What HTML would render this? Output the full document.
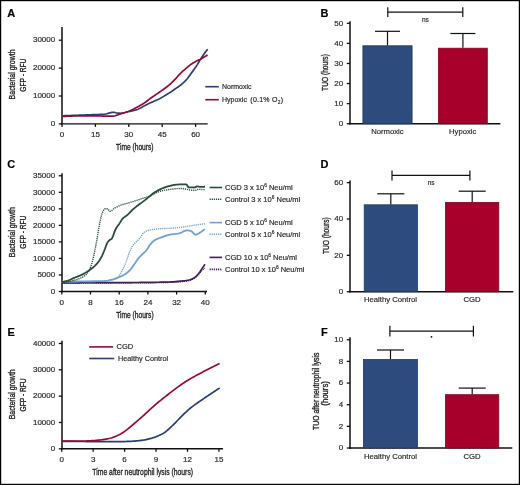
<!DOCTYPE html>
<html><head><meta charset="utf-8"><style>
html,body{margin:0;padding:0;background:#fff;}
svg{display:block;font-family:"Liberation Sans", sans-serif;filter:blur(0.35px);}
text{stroke:currentColor;stroke-width:0.18px;}
</style></head><body>
<svg width="520" height="485" viewBox="0 0 520 485">
<rect width="520" height="485" fill="#fff"/>
<text x="7.3" y="17.2" font-size="11" text-anchor="start" fill="#000" color="#000" font-weight="bold" >A</text>
<line x1="62" y1="27" x2="62" y2="124.6" stroke="#111" stroke-width="1.5" />
<line x1="58.8" y1="123.9" x2="62" y2="123.9" stroke="#111" stroke-width="1.3" />
<text x="55.2" y="126.15" font-size="8" text-anchor="end" fill="#2a2a2a" color="#2a2a2a" font-weight="normal" >0</text>
<line x1="58.8" y1="96.0" x2="62" y2="96.0" stroke="#111" stroke-width="1.3" />
<text x="55.2" y="98.25" font-size="8" text-anchor="end" fill="#2a2a2a" color="#2a2a2a" font-weight="normal" >10000</text>
<line x1="58.8" y1="68.1" x2="62" y2="68.1" stroke="#111" stroke-width="1.3" />
<text x="55.2" y="70.35" font-size="8" text-anchor="end" fill="#2a2a2a" color="#2a2a2a" font-weight="normal" >20000</text>
<line x1="58.8" y1="40.2" x2="62" y2="40.2" stroke="#111" stroke-width="1.3" />
<text x="55.2" y="42.45" font-size="8" text-anchor="end" fill="#2a2a2a" color="#2a2a2a" font-weight="normal" >30000</text>
<line x1="61.25" y1="123.9" x2="207.7" y2="123.9" stroke="#111" stroke-width="1.4" />
<line x1="62.0" y1="123.9" x2="62.0" y2="126.9" stroke="#111" stroke-width="1.3" />
<text x="62.0" y="137.2" font-size="8" text-anchor="middle" fill="#2a2a2a" color="#2a2a2a" font-weight="normal" >0</text>
<line x1="95.4" y1="123.9" x2="95.4" y2="126.9" stroke="#111" stroke-width="1.3" />
<text x="95.4" y="137.2" font-size="8" text-anchor="middle" fill="#2a2a2a" color="#2a2a2a" font-weight="normal" >15</text>
<line x1="128.8" y1="123.9" x2="128.8" y2="126.9" stroke="#111" stroke-width="1.3" />
<text x="128.8" y="137.2" font-size="8" text-anchor="middle" fill="#2a2a2a" color="#2a2a2a" font-weight="normal" >30</text>
<line x1="162.2" y1="123.9" x2="162.2" y2="126.9" stroke="#111" stroke-width="1.3" />
<text x="162.2" y="137.2" font-size="8" text-anchor="middle" fill="#2a2a2a" color="#2a2a2a" font-weight="normal" >45</text>
<line x1="195.6" y1="123.9" x2="195.6" y2="126.9" stroke="#111" stroke-width="1.3" />
<text x="195.6" y="137.2" font-size="8" text-anchor="middle" fill="#2a2a2a" color="#2a2a2a" font-weight="normal" >60</text>
<g transform="translate(134.8,150.3) scale(0.74,1)"><text style="stroke-width:0.32px" x="0" y="0" font-size="9" text-anchor="middle" fill="#222" color="#222">Time (hours)</text></g>
<g transform="translate(15.3,74.4) rotate(-90) scale(0.775,1)"><text style="stroke-width:0.32px" x="0" y="0" font-size="9" text-anchor="middle" fill="#222" color="#222">Bacterial growth</text></g>
<g transform="translate(25.5,75.2) rotate(-90) scale(0.74,1)"><text style="stroke-width:0.32px" x="0" y="0" font-size="9" text-anchor="middle" fill="#222" color="#222">GFP - RFU</text></g>
<path d="M62.00,115.80 L63.00,115.77 L64.00,115.73 L65.00,115.70 L66.00,115.66 L67.00,115.63 L68.00,115.59 L69.00,115.56 L70.00,115.52 L71.00,115.49 L72.00,115.45 L73.00,115.42 L74.00,115.38 L75.00,115.35 L76.00,115.31 L77.00,115.27 L78.00,115.24 L79.00,115.20 L80.00,115.17 L81.00,115.13 L82.00,115.09 L83.00,115.05 L84.00,115.02 L85.00,114.98 L86.00,114.94 L87.00,114.90 L88.00,114.87 L89.00,114.83 L90.00,114.79 L91.00,114.75 L92.00,114.71 L93.00,114.68 L94.00,114.64 L95.00,114.60 L96.00,114.56 L97.00,114.53 L98.00,114.51 L99.00,114.48 L100.00,114.45 L101.00,114.42 L102.00,114.38 L103.00,114.33 L104.00,114.27 L105.00,114.20 L106.00,114.02 L107.00,113.72 L108.00,113.38 L109.00,113.10 L110.00,112.87 L111.00,112.63 L112.00,112.44 L113.00,112.32 L114.00,112.33 L115.00,112.52 L116.00,112.80 L117.00,113.03 L118.00,113.14 L119.00,113.22 L120.00,113.28 L121.00,113.30 L122.00,113.22 L123.00,113.02 L124.00,112.75 L125.00,112.46 L126.00,112.20 L127.00,111.98 L128.00,111.76 L129.00,111.53 L130.00,111.30 L131.00,111.07 L132.00,110.85 L133.00,110.63 L134.00,110.40 L135.00,110.15 L136.00,109.88 L137.00,109.57 L138.00,109.19 L139.00,108.73 L140.00,108.23 L141.00,107.69 L142.00,107.15 L143.00,106.61 L144.00,106.10 L145.00,105.60 L146.00,105.09 L147.00,104.59 L148.00,104.08 L149.00,103.58 L150.00,103.09 L151.00,102.60 L152.00,102.14 L153.00,101.69 L154.00,101.26 L155.00,100.83 L156.00,100.39 L157.00,99.95 L158.00,99.49 L159.00,99.01 L160.00,98.50 L161.00,97.95 L162.00,97.37 L163.00,96.75 L164.00,96.13 L165.00,95.52 L166.00,94.92 L167.00,94.33 L168.00,93.73 L169.00,93.12 L170.00,92.49 L171.00,91.84 L172.00,91.16 L173.00,90.46 L174.00,89.76 L175.00,89.05 L176.00,88.35 L177.00,87.67 L178.00,86.99 L179.00,86.30 L180.00,85.56 L181.00,84.78 L182.00,83.96 L183.00,83.11 L184.00,82.20 L185.00,81.23 L186.00,80.18 L187.00,79.00 L188.00,77.70 L189.00,76.33 L190.00,74.94 L191.00,73.57 L192.00,72.22 L193.00,70.88 L194.00,69.51 L195.00,68.11 L196.00,66.65 L197.00,65.10 L198.00,63.46 L199.00,61.78 L200.00,60.11 L201.00,58.51 L202.00,56.98 L203.00,55.48 L204.00,54.02 L205.00,52.63 L206.00,51.33 L207.00,50.11 L207.70,49.30" fill="none" stroke="#283f70" stroke-width="1.7" stroke-linejoin="round"/>
<path d="M62.00,116.50 L63.00,116.44 L64.00,116.38 L65.00,116.33 L66.00,116.28 L67.00,116.23 L68.00,116.19 L69.00,116.15 L70.00,116.11 L71.00,116.07 L72.00,116.04 L73.00,116.01 L74.00,115.98 L75.00,115.96 L76.00,115.94 L77.00,115.92 L78.00,115.90 L79.00,115.88 L80.00,115.87 L81.00,115.86 L82.00,115.85 L83.00,115.84 L84.00,115.83 L85.00,115.82 L86.00,115.82 L87.00,115.81 L88.00,115.81 L89.00,115.81 L90.00,115.80 L91.00,115.80 L92.00,115.80 L93.00,115.80 L94.00,115.80 L95.00,115.80 L96.00,115.81 L97.00,115.83 L98.00,115.87 L99.00,115.91 L100.00,115.96 L101.00,116.01 L102.00,116.06 L103.00,116.11 L104.00,116.15 L105.00,116.18 L106.00,116.20 L107.00,116.20 L108.00,116.20 L109.00,116.20 L110.00,116.20 L111.00,116.20 L112.00,116.20 L113.00,116.19 L114.00,116.05 L115.00,115.78 L116.00,115.44 L117.00,115.10 L118.00,114.75 L119.00,114.34 L120.00,113.94 L121.00,113.61 L122.00,113.33 L123.00,113.07 L124.00,112.81 L125.00,112.54 L126.00,112.24 L127.00,111.91 L128.00,111.57 L129.00,111.20 L130.00,110.80 L131.00,110.37 L132.00,109.89 L133.00,109.39 L134.00,108.87 L135.00,108.33 L136.00,107.79 L137.00,107.25 L138.00,106.70 L139.00,106.15 L140.00,105.59 L141.00,105.02 L142.00,104.43 L143.00,103.81 L144.00,103.17 L145.00,102.48 L146.00,101.75 L147.00,100.99 L148.00,100.21 L149.00,99.44 L150.00,98.68 L151.00,97.96 L152.00,97.25 L153.00,96.56 L154.00,95.88 L155.00,95.20 L156.00,94.53 L157.00,93.85 L158.00,93.18 L159.00,92.49 L160.00,91.80 L161.00,91.10 L162.00,90.41 L163.00,89.70 L164.00,88.99 L165.00,88.25 L166.00,87.49 L167.00,86.72 L168.00,85.93 L169.00,85.11 L170.00,84.26 L171.00,83.37 L172.00,82.43 L173.00,81.46 L174.00,80.45 L175.00,79.42 L176.00,78.37 L177.00,77.24 L178.00,76.07 L179.00,74.92 L180.00,73.81 L181.00,72.81 L182.00,71.88 L183.00,70.99 L184.00,70.13 L185.00,69.28 L186.00,68.43 L187.00,67.56 L188.00,66.70 L189.00,65.85 L190.00,65.06 L191.00,64.33 L192.00,63.67 L193.00,63.05 L194.00,62.46 L195.00,61.90 L196.00,61.35 L197.00,60.84 L198.00,60.36 L199.00,59.89 L200.00,59.42 L201.00,58.91 L202.00,58.33 L203.00,57.70 L204.00,57.04 L205.00,56.43 L206.00,55.88 L207.00,55.38 L207.60,55.10" fill="none" stroke="#900c35" stroke-width="1.7" stroke-linejoin="round"/>
<line x1="205.3" y1="86.7" x2="218.8" y2="86.7" stroke="#283f70" stroke-width="1.6" />
<line x1="205.3" y1="99.7" x2="218.8" y2="99.7" stroke="#900c35" stroke-width="1.6" />
<text x="222" y="89.4" font-size="7" text-anchor="start" fill="#2a2a2a" color="#2a2a2a" font-weight="normal" >Normoxic</text>
<text x="222" y="102.2" font-size="7" text-anchor="start" fill="#2a2a2a" color="#2a2a2a" font-weight="normal" >Hypoxic</text>
<text x="250.3" y="102.2" font-size="7" text-anchor="start" fill="#2a2a2a" color="#2a2a2a" font-weight="normal" letter-spacing="0.25">(0.1%</text>
<text x="272.0" y="102.2" font-size="7" text-anchor="start" fill="#2a2a2a" color="#2a2a2a" font-weight="normal" >O</text>
<text x="277.8" y="103.8" font-size="4.8" text-anchor="start" fill="#2a2a2a" color="#2a2a2a" font-weight="normal" >2</text>
<text x="280.7" y="102.2" font-size="7" text-anchor="start" fill="#2a2a2a" color="#2a2a2a" font-weight="normal" >)</text>
<text x="320.4" y="16.9" font-size="11" text-anchor="start" fill="#000" color="#000" font-weight="bold" >B</text>
<line x1="350" y1="21.2" x2="350" y2="124.4" stroke="#111" stroke-width="1.5" />
<line x1="346.8" y1="123.7" x2="350" y2="123.7" stroke="#111" stroke-width="1.3" />
<text x="343.2" y="125.95" font-size="8" text-anchor="end" fill="#2a2a2a" color="#2a2a2a" font-weight="normal" >0</text>
<line x1="346.8" y1="103.62" x2="350" y2="103.62" stroke="#111" stroke-width="1.3" />
<text x="343.2" y="105.87" font-size="8" text-anchor="end" fill="#2a2a2a" color="#2a2a2a" font-weight="normal" >10</text>
<line x1="346.8" y1="83.54" x2="350" y2="83.54" stroke="#111" stroke-width="1.3" />
<text x="343.2" y="85.79" font-size="8" text-anchor="end" fill="#2a2a2a" color="#2a2a2a" font-weight="normal" >20</text>
<line x1="346.8" y1="63.46" x2="350" y2="63.46" stroke="#111" stroke-width="1.3" />
<text x="343.2" y="65.71" font-size="8" text-anchor="end" fill="#2a2a2a" color="#2a2a2a" font-weight="normal" >30</text>
<line x1="346.8" y1="43.38" x2="350" y2="43.38" stroke="#111" stroke-width="1.3" />
<text x="343.2" y="45.63" font-size="8" text-anchor="end" fill="#2a2a2a" color="#2a2a2a" font-weight="normal" >40</text>
<line x1="346.8" y1="23.3" x2="350" y2="23.3" stroke="#111" stroke-width="1.3" />
<text x="343.2" y="25.55" font-size="8" text-anchor="end" fill="#2a2a2a" color="#2a2a2a" font-weight="normal" >50</text>
<line x1="349.25" y1="123.7" x2="500.4" y2="123.7" stroke="#111" stroke-width="1.4" />
<rect x="362.90" y="45.79" width="49.20" height="77.91" fill="#2d4b7d" stroke="#203a63" stroke-width="0.8"/>
<rect x="438.40" y="48.20" width="48.90" height="75.50" fill="#a6002b" stroke="#860022" stroke-width="0.8"/>
<line x1="387.5" y1="31.3" x2="387.5" y2="45.39" stroke="#111" stroke-width="1.2" />
<line x1="375.0" y1="31.3" x2="400.0" y2="31.3" stroke="#111" stroke-width="1.2" />
<line x1="462.9" y1="33.5" x2="462.9" y2="47.8" stroke="#111" stroke-width="1.2" />
<line x1="450.4" y1="33.5" x2="475.4" y2="33.5" stroke="#111" stroke-width="1.2" />
<line x1="387.8" y1="12.2" x2="462.8" y2="12.2" stroke="#111" stroke-width="1.2" />
<line x1="387.8" y1="7.2" x2="387.8" y2="17.1" stroke="#111" stroke-width="1.2" />
<line x1="462.8" y1="7.2" x2="462.8" y2="17.1" stroke="#111" stroke-width="1.2" />
<text x="425.4" y="21.8" font-size="6.5" text-anchor="middle" fill="#2a2a2a" color="#2a2a2a" font-weight="normal" >ns</text>
<text x="387.4" y="134" font-size="7.7" text-anchor="middle" fill="#2a2a2a" color="#2a2a2a" font-weight="normal" >Normoxic</text>
<text x="462.7" y="134" font-size="7.7" text-anchor="middle" fill="#2a2a2a" color="#2a2a2a" font-weight="normal" >Hypoxic</text>
<g transform="translate(328.4,72.5) rotate(-90) scale(0.78,1)"><text style="stroke-width:0.32px" x="0" y="0" font-size="8.5" text-anchor="middle" fill="#222" color="#222">TUO (hours)</text></g>
<text x="7.2" y="167.8" font-size="11" text-anchor="start" fill="#000" color="#000" font-weight="bold" >C</text>
<line x1="62" y1="173.2" x2="62" y2="292.2" stroke="#111" stroke-width="1.5" />
<line x1="58.8" y1="291.5" x2="62" y2="291.5" stroke="#111" stroke-width="1.3" />
<text x="55.2" y="293.75" font-size="8" text-anchor="end" fill="#2a2a2a" color="#2a2a2a" font-weight="normal" >0</text>
<line x1="58.8" y1="274.97" x2="62" y2="274.97" stroke="#111" stroke-width="1.3" />
<text x="55.2" y="277.22" font-size="8" text-anchor="end" fill="#2a2a2a" color="#2a2a2a" font-weight="normal" >5000</text>
<line x1="58.8" y1="258.44" x2="62" y2="258.44" stroke="#111" stroke-width="1.3" />
<text x="55.2" y="260.69" font-size="8" text-anchor="end" fill="#2a2a2a" color="#2a2a2a" font-weight="normal" >10000</text>
<line x1="58.8" y1="241.91" x2="62" y2="241.91" stroke="#111" stroke-width="1.3" />
<text x="55.2" y="244.16" font-size="8" text-anchor="end" fill="#2a2a2a" color="#2a2a2a" font-weight="normal" >15000</text>
<line x1="58.8" y1="225.38" x2="62" y2="225.38" stroke="#111" stroke-width="1.3" />
<text x="55.2" y="227.63" font-size="8" text-anchor="end" fill="#2a2a2a" color="#2a2a2a" font-weight="normal" >20000</text>
<line x1="58.8" y1="208.85" x2="62" y2="208.85" stroke="#111" stroke-width="1.3" />
<text x="55.2" y="211.1" font-size="8" text-anchor="end" fill="#2a2a2a" color="#2a2a2a" font-weight="normal" >25000</text>
<line x1="58.8" y1="192.32" x2="62" y2="192.32" stroke="#111" stroke-width="1.3" />
<text x="55.2" y="194.57" font-size="8" text-anchor="end" fill="#2a2a2a" color="#2a2a2a" font-weight="normal" >30000</text>
<line x1="58.8" y1="175.79" x2="62" y2="175.79" stroke="#111" stroke-width="1.3" />
<text x="55.2" y="178.04" font-size="8" text-anchor="end" fill="#2a2a2a" color="#2a2a2a" font-weight="normal" >35000</text>
<line x1="61.25" y1="291.5" x2="207" y2="291.5" stroke="#111" stroke-width="1.4" />
<line x1="61.8" y1="291.5" x2="61.8" y2="294.5" stroke="#111" stroke-width="1.3" />
<text x="61.8" y="305" font-size="8" text-anchor="middle" fill="#2a2a2a" color="#2a2a2a" font-weight="normal" >0</text>
<line x1="90.5" y1="291.5" x2="90.5" y2="294.5" stroke="#111" stroke-width="1.3" />
<text x="90.5" y="305" font-size="8" text-anchor="middle" fill="#2a2a2a" color="#2a2a2a" font-weight="normal" >8</text>
<line x1="119.2" y1="291.5" x2="119.2" y2="294.5" stroke="#111" stroke-width="1.3" />
<text x="119.2" y="305" font-size="8" text-anchor="middle" fill="#2a2a2a" color="#2a2a2a" font-weight="normal" >16</text>
<line x1="147.9" y1="291.5" x2="147.9" y2="294.5" stroke="#111" stroke-width="1.3" />
<text x="147.9" y="305" font-size="8" text-anchor="middle" fill="#2a2a2a" color="#2a2a2a" font-weight="normal" >24</text>
<line x1="176.6" y1="291.5" x2="176.6" y2="294.5" stroke="#111" stroke-width="1.3" />
<text x="176.6" y="305" font-size="8" text-anchor="middle" fill="#2a2a2a" color="#2a2a2a" font-weight="normal" >32</text>
<line x1="205.3" y1="291.5" x2="205.3" y2="294.5" stroke="#111" stroke-width="1.3" />
<text x="205.3" y="305" font-size="8" text-anchor="middle" fill="#2a2a2a" color="#2a2a2a" font-weight="normal" >40</text>
<g transform="translate(134.9,318.3) scale(0.74,1)"><text style="stroke-width:0.32px" x="0" y="0" font-size="9" text-anchor="middle" fill="#222" color="#222">Time (hours)</text></g>
<g transform="translate(15.3,232.2) rotate(-90) scale(0.775,1)"><text style="stroke-width:0.32px" x="0" y="0" font-size="9" text-anchor="middle" fill="#222" color="#222">Bacterial growth</text></g>
<g transform="translate(25.5,232.2) rotate(-90) scale(0.74,1)"><text style="stroke-width:0.32px" x="0" y="0" font-size="9" text-anchor="middle" fill="#222" color="#222">GFP - RFU</text></g>
<path d="M62.00,283.00 L63.00,283.00 L64.00,283.00 L65.00,283.00 L66.00,283.00 L67.00,283.00 L68.00,283.00 L69.00,283.00 L70.00,283.00 L71.00,283.00 L72.00,283.00 L73.00,283.00 L74.00,282.99 L75.00,282.99 L76.00,282.99 L77.00,282.99 L78.00,282.99 L79.00,282.99 L80.00,282.99 L81.00,282.99 L82.00,282.99 L83.00,282.98 L84.00,282.98 L85.00,282.98 L86.00,282.98 L87.00,282.98 L88.00,282.98 L89.00,282.98 L90.00,282.97 L91.00,282.97 L92.00,282.97 L93.00,282.97 L94.00,282.97 L95.00,282.96 L96.00,282.96 L97.00,282.96 L98.00,282.96 L99.00,282.96 L100.00,282.95 L101.00,282.95 L102.00,282.95 L103.00,282.95 L104.00,282.94 L105.00,282.94 L106.00,282.94 L107.00,282.94 L108.00,282.93 L109.00,282.93 L110.00,282.93 L111.00,282.93 L112.00,282.92 L113.00,282.92 L114.00,282.92 L115.00,282.91 L116.00,282.91 L117.00,282.91 L118.00,282.91 L119.00,282.90 L120.00,282.90 L121.00,282.90 L122.00,282.89 L123.00,282.89 L124.00,282.89 L125.00,282.88 L126.00,282.88 L127.00,282.88 L128.00,282.87 L129.00,282.87 L130.00,282.86 L131.00,282.86 L132.00,282.85 L133.00,282.85 L134.00,282.84 L135.00,282.83 L136.00,282.83 L137.00,282.82 L138.00,282.81 L139.00,282.81 L140.00,282.80 L141.00,282.79 L142.00,282.78 L143.00,282.78 L144.00,282.77 L145.00,282.76 L146.00,282.75 L147.00,282.74 L148.00,282.73 L149.00,282.72 L150.00,282.71 L151.00,282.70 L152.00,282.69 L153.00,282.67 L154.00,282.66 L155.00,282.65 L156.00,282.64 L157.00,282.62 L158.00,282.61 L159.00,282.59 L160.00,282.58 L161.00,282.56 L162.00,282.55 L163.00,282.53 L164.00,282.51 L165.00,282.50 L166.00,282.48 L167.00,282.46 L168.00,282.44 L169.00,282.42 L170.00,282.40 L171.00,282.37 L172.00,282.34 L173.00,282.29 L174.00,282.24 L175.00,282.18 L176.00,282.11 L177.00,282.04 L178.00,281.96 L179.00,281.88 L180.00,281.80 L181.00,281.72 L182.00,281.62 L183.00,281.52 L184.00,281.41 L185.00,281.28 L186.00,281.14 L187.00,280.98 L188.00,280.80 L189.00,280.57 L190.00,280.26 L191.00,279.90 L192.00,279.47 L193.00,279.00 L194.00,278.42 L195.00,277.71 L196.00,276.89 L197.00,276.00 L198.00,274.96 L199.00,273.76 L200.00,272.56 L201.00,271.46 L202.00,270.41 L203.00,269.50 L204.00,268.78 L205.00,268.20" fill="none" stroke="#3e1f57" stroke-width="1.4" stroke-linejoin="round" stroke-dasharray="1.2 0.9"/>
<path d="M62.00,282.80 L63.00,282.80 L64.00,282.80 L65.00,282.80 L66.00,282.80 L67.00,282.80 L68.00,282.80 L69.00,282.80 L70.00,282.79 L71.00,282.79 L72.00,282.79 L73.00,282.79 L74.00,282.79 L75.00,282.79 L76.00,282.78 L77.00,282.78 L78.00,282.78 L79.00,282.78 L80.00,282.78 L81.00,282.77 L82.00,282.77 L83.00,282.77 L84.00,282.76 L85.00,282.76 L86.00,282.76 L87.00,282.75 L88.00,282.75 L89.00,282.75 L90.00,282.74 L91.00,282.74 L92.00,282.74 L93.00,282.73 L94.00,282.73 L95.00,282.72 L96.00,282.72 L97.00,282.71 L98.00,282.71 L99.00,282.71 L100.00,282.70 L101.00,282.70 L102.00,282.69 L103.00,282.69 L104.00,282.68 L105.00,282.68 L106.00,282.67 L107.00,282.67 L108.00,282.66 L109.00,282.66 L110.00,282.65 L111.00,282.65 L112.00,282.64 L113.00,282.64 L114.00,282.63 L115.00,282.63 L116.00,282.62 L117.00,282.62 L118.00,282.61 L119.00,282.61 L120.00,282.60 L121.00,282.59 L122.00,282.59 L123.00,282.58 L124.00,282.58 L125.00,282.57 L126.00,282.57 L127.00,282.56 L128.00,282.56 L129.00,282.55 L130.00,282.54 L131.00,282.54 L132.00,282.53 L133.00,282.52 L134.00,282.52 L135.00,282.51 L136.00,282.50 L137.00,282.50 L138.00,282.49 L139.00,282.48 L140.00,282.47 L141.00,282.46 L142.00,282.45 L143.00,282.44 L144.00,282.43 L145.00,282.42 L146.00,282.41 L147.00,282.40 L148.00,282.39 L149.00,282.38 L150.00,282.37 L151.00,282.35 L152.00,282.34 L153.00,282.33 L154.00,282.31 L155.00,282.30 L156.00,282.28 L157.00,282.27 L158.00,282.25 L159.00,282.23 L160.00,282.22 L161.00,282.20 L162.00,282.18 L163.00,282.16 L164.00,282.14 L165.00,282.12 L166.00,282.09 L167.00,282.07 L168.00,282.05 L169.00,282.02 L170.00,282.00 L171.00,281.96 L172.00,281.91 L173.00,281.84 L174.00,281.75 L175.00,281.66 L176.00,281.56 L177.00,281.46 L178.00,281.37 L179.00,281.27 L180.00,281.19 L181.00,281.10 L182.00,281.02 L183.00,280.92 L184.00,280.83 L185.00,280.72 L186.00,280.59 L187.00,280.45 L188.00,280.27 L189.00,280.04 L190.00,279.76 L191.00,279.42 L192.00,279.03 L193.00,278.53 L194.00,277.91 L195.00,277.19 L196.00,276.40 L197.00,275.44 L198.00,274.29 L199.00,273.02 L200.00,271.66 L201.00,270.13 L202.00,268.60 L203.00,267.14 L204.00,265.71 L205.00,264.30" fill="none" stroke="#3e1f57" stroke-width="1.7" stroke-linejoin="round"/>
<path d="M62.00,281.80 L63.00,281.80 L64.00,281.80 L65.00,281.80 L66.00,281.79 L67.00,281.79 L68.00,281.79 L69.00,281.78 L70.00,281.77 L71.00,281.77 L72.00,281.76 L73.00,281.75 L74.00,281.74 L75.00,281.73 L76.00,281.72 L77.00,281.71 L78.00,281.69 L79.00,281.68 L80.00,281.67 L81.00,281.65 L82.00,281.63 L83.00,281.62 L84.00,281.60 L85.00,281.58 L86.00,281.56 L87.00,281.54 L88.00,281.52 L89.00,281.50 L90.00,281.48 L91.00,281.45 L92.00,281.43 L93.00,281.40 L94.00,281.38 L95.00,281.35 L96.00,281.32 L97.00,281.29 L98.00,281.26 L99.00,281.23 L100.00,281.20 L101.00,281.16 L102.00,281.10 L103.00,281.03 L104.00,280.95 L105.00,280.85 L106.00,280.74 L107.00,280.62 L108.00,280.49 L109.00,280.35 L110.00,280.20 L111.00,280.04 L112.00,279.86 L113.00,279.65 L114.00,279.39 L115.00,279.08 L116.00,278.70 L117.00,278.25 L118.00,277.53 L119.00,276.20 L120.00,274.64 L121.00,272.81 L122.00,270.74 L123.00,268.71 L124.00,266.75 L125.00,264.66 L126.00,262.21 L127.00,259.46 L128.00,256.49 L129.00,253.57 L130.00,250.84 L131.00,248.72 L132.00,246.96 L133.00,245.45 L134.00,244.16 L135.00,243.09 L136.00,242.15 L137.00,241.22 L138.00,240.17 L139.00,239.01 L140.00,237.79 L141.00,236.50 L142.00,234.95 L143.00,233.37 L144.00,232.37 L145.00,231.72 L146.00,231.20 L147.00,230.79 L148.00,230.48 L149.00,230.22 L150.00,229.99 L151.00,229.79 L152.00,229.61 L153.00,229.46 L154.00,229.33 L155.00,229.20 L156.00,229.09 L157.00,228.99 L158.00,228.89 L159.00,228.80 L160.00,228.73 L161.00,228.66 L162.00,228.60 L163.00,228.55 L164.00,228.51 L165.00,228.47 L166.00,228.44 L167.00,228.41 L168.00,228.37 L169.00,228.33 L170.00,228.28 L171.00,228.22 L172.00,228.15 L173.00,228.08 L174.00,228.00 L175.00,227.91 L176.00,227.82 L177.00,227.72 L178.00,227.62 L179.00,227.52 L180.00,227.41 L181.00,227.29 L182.00,227.15 L183.00,227.00 L184.00,226.85 L185.00,226.70 L186.00,226.54 L187.00,226.38 L188.00,226.22 L189.00,226.07 L190.00,225.92 L191.00,225.76 L192.00,225.60 L193.00,225.44 L194.00,225.29 L195.00,225.13 L196.00,224.97 L197.00,224.82 L198.00,224.67 L199.00,224.53 L200.00,224.39 L201.00,224.25 L202.00,224.12 L203.00,223.98 L204.00,223.85 L205.00,223.73 L205.20,223.70" fill="none" stroke="#72a1cf" stroke-width="1.4" stroke-linejoin="round" stroke-dasharray="1.2 0.9"/>
<path d="M62.00,281.60 L63.00,281.60 L64.00,281.59 L65.00,281.58 L66.00,281.58 L67.00,281.57 L68.00,281.56 L69.00,281.55 L70.00,281.54 L71.00,281.54 L72.00,281.53 L73.00,281.52 L74.00,281.51 L75.00,281.50 L76.00,281.48 L77.00,281.47 L78.00,281.46 L79.00,281.45 L80.00,281.44 L81.00,281.42 L82.00,281.41 L83.00,281.40 L84.00,281.38 L85.00,281.37 L86.00,281.36 L87.00,281.34 L88.00,281.33 L89.00,281.31 L90.00,281.30 L91.00,281.29 L92.00,281.27 L93.00,281.26 L94.00,281.25 L95.00,281.24 L96.00,281.22 L97.00,281.21 L98.00,281.19 L99.00,281.17 L100.00,281.15 L101.00,281.13 L102.00,281.10 L103.00,281.07 L104.00,281.04 L105.00,281.00 L106.00,280.92 L107.00,280.78 L108.00,280.59 L109.00,280.37 L110.00,280.12 L111.00,279.86 L112.00,279.60 L113.00,279.33 L114.00,279.04 L115.00,278.72 L116.00,278.38 L117.00,278.02 L118.00,277.64 L119.00,277.24 L120.00,276.82 L121.00,276.38 L122.00,275.90 L123.00,275.39 L124.00,274.83 L125.00,274.23 L126.00,273.56 L127.00,272.80 L128.00,271.95 L129.00,271.03 L130.00,270.03 L131.00,268.93 L132.00,267.64 L133.00,266.23 L134.00,264.77 L135.00,263.32 L136.00,261.77 L137.00,260.22 L138.00,258.80 L139.00,257.61 L140.00,256.57 L141.00,255.60 L142.00,254.67 L143.00,253.70 L144.00,252.74 L145.00,251.79 L146.00,250.75 L147.00,249.47 L148.00,247.90 L149.00,246.26 L150.00,244.78 L151.00,243.57 L152.00,242.43 L153.00,241.43 L154.00,240.63 L155.00,240.03 L156.00,239.51 L157.00,239.05 L158.00,238.64 L159.00,238.27 L160.00,237.91 L161.00,237.56 L162.00,237.20 L163.00,236.83 L164.00,236.45 L165.00,236.08 L166.00,235.72 L167.00,235.39 L168.00,235.09 L169.00,234.83 L170.00,234.62 L171.00,234.45 L172.00,234.30 L173.00,234.17 L174.00,234.06 L175.00,233.94 L176.00,233.82 L177.00,233.69 L178.00,233.53 L179.00,233.34 L180.00,233.08 L181.00,232.67 L182.00,232.19 L183.00,231.67 L184.00,231.18 L185.00,230.77 L186.00,230.49 L187.00,230.40 L188.00,230.45 L189.00,230.57 L190.00,230.74 L191.00,230.96 L192.00,231.64 L193.00,232.70 L194.00,233.79 L195.00,234.55 L196.00,234.67 L197.00,234.38 L198.00,233.86 L199.00,233.21 L200.00,232.55 L201.00,231.93 L202.00,231.27 L203.00,230.54 L204.00,229.77 L204.70,229.20" fill="none" stroke="#72a1cf" stroke-width="1.8" stroke-linejoin="round"/>
<path d="M62.00,282.40 L63.00,282.35 L64.00,282.27 L65.00,282.16 L66.00,282.02 L67.00,281.86 L68.00,281.68 L69.00,281.49 L70.00,281.27 L71.00,281.05 L72.00,280.81 L73.00,280.56 L74.00,280.31 L75.00,280.05 L76.00,279.77 L77.00,279.47 L78.00,279.14 L79.00,278.77 L80.00,278.36 L81.00,277.91 L82.00,277.41 L83.00,276.86 L84.00,276.26 L85.00,275.58 L86.00,274.68 L87.00,273.52 L88.00,272.15 L89.00,270.56 L90.00,268.50 L91.00,266.00 L92.00,262.86 L93.00,259.06 L94.00,254.80 L95.00,249.90 L96.00,244.58 L97.00,238.93 L98.00,233.00 L99.00,226.94 L100.00,221.50 L101.00,217.14 L102.00,213.71 L103.00,211.30 L104.00,209.39 L105.00,208.80 L106.00,208.80 L107.00,208.80 L108.00,209.05 L109.00,210.40 L110.00,211.39 L111.00,211.14 L112.00,210.39 L113.00,209.43 L114.00,208.54 L115.00,207.92 L116.00,207.38 L117.00,206.88 L118.00,206.41 L119.00,205.97 L120.00,205.55 L121.00,205.16 L122.00,204.80 L123.00,204.46 L124.00,204.16 L125.00,203.87 L126.00,203.60 L127.00,203.33 L128.00,203.07 L129.00,202.79 L130.00,202.50 L131.00,202.20 L132.00,201.89 L133.00,201.58 L134.00,201.26 L135.00,200.95 L136.00,200.62 L137.00,200.30 L138.00,199.97 L139.00,199.63 L140.00,199.29 L141.00,198.95 L142.00,198.61 L143.00,198.27 L144.00,197.93 L145.00,197.61 L146.00,197.30 L147.00,196.99 L148.00,196.68 L149.00,196.36 L150.00,196.00 L151.00,195.59 L152.00,195.12 L153.00,194.60 L154.00,194.07 L155.00,193.52 L156.00,192.98 L157.00,192.48 L158.00,192.02 L159.00,191.62 L160.00,191.30 L161.00,191.04 L162.00,190.80 L163.00,190.57 L164.00,190.36 L165.00,190.16 L166.00,189.98 L167.00,189.82 L168.00,189.67 L169.00,189.53 L170.00,189.40 L171.00,189.28 L172.00,189.15 L173.00,189.03 L174.00,188.91 L175.00,188.80 L176.00,188.70 L177.00,188.62 L178.00,188.55 L179.00,188.51 L180.00,188.50 L181.00,188.53 L182.00,188.61 L183.00,188.73 L184.00,188.86 L185.00,189.00 L186.00,189.17 L187.00,189.39 L188.00,189.63 L189.00,189.84 L190.00,190.00 L191.00,190.11 L192.00,190.22 L193.00,190.31 L194.00,190.38 L195.00,190.40 L196.00,190.05 L197.00,189.50 L198.00,189.40 L199.00,189.40 L200.00,189.41 L201.00,189.44 L202.00,189.49 L203.00,189.56 L204.00,189.66 L205.00,189.80" fill="none" stroke="#2b4e3b" stroke-width="1.4" stroke-linejoin="round" stroke-dasharray="1.2 0.9"/>
<path d="M62.00,282.20 L63.00,281.97 L64.00,281.72 L65.00,281.44 L66.00,281.15 L67.00,280.83 L68.00,280.49 L69.00,280.12 L70.00,279.71 L71.00,279.27 L72.00,278.83 L73.00,278.38 L74.00,277.94 L75.00,277.52 L76.00,277.11 L77.00,276.72 L78.00,276.34 L79.00,275.94 L80.00,275.54 L81.00,275.11 L82.00,274.65 L83.00,274.15 L84.00,273.61 L85.00,273.05 L86.00,272.45 L87.00,271.82 L88.00,271.17 L89.00,270.49 L90.00,269.79 L91.00,269.06 L92.00,268.30 L93.00,267.49 L94.00,266.63 L95.00,265.70 L96.00,264.69 L97.00,263.58 L98.00,262.35 L99.00,260.99 L100.00,259.50 L101.00,257.83 L102.00,255.82 L103.00,253.59 L104.00,251.26 L105.00,248.74 L106.00,245.90 L107.00,243.38 L108.00,241.76 L109.00,240.66 L110.00,239.80 L111.00,239.22 L112.00,238.50 L113.00,236.11 L114.00,233.19 L115.00,230.66 L116.00,228.50 L117.00,226.89 L118.00,225.54 L119.00,224.19 L120.00,222.63 L121.00,220.94 L122.00,219.38 L123.00,218.20 L124.00,217.37 L125.00,216.68 L126.00,216.03 L127.00,215.28 L128.00,214.38 L129.00,213.38 L130.00,212.33 L131.00,211.27 L132.00,210.25 L133.00,209.32 L134.00,208.46 L135.00,207.64 L136.00,206.84 L137.00,206.07 L138.00,205.30 L139.00,204.55 L140.00,203.83 L141.00,203.11 L142.00,202.39 L143.00,201.65 L144.00,200.88 L145.00,200.10 L146.00,199.30 L147.00,198.50 L148.00,197.67 L149.00,196.84 L150.00,196.00 L151.00,195.09 L152.00,194.19 L153.00,193.44 L154.00,192.76 L155.00,192.11 L156.00,191.50 L157.00,190.93 L158.00,190.39 L159.00,189.88 L160.00,189.40 L161.00,188.94 L162.00,188.50 L163.00,188.08 L164.00,187.68 L165.00,187.31 L166.00,186.96 L167.00,186.65 L168.00,186.36 L169.00,186.07 L170.00,185.80 L171.00,185.54 L172.00,185.30 L173.00,185.09 L174.00,184.92 L175.00,184.80 L176.00,184.70 L177.00,184.61 L178.00,184.53 L179.00,184.47 L180.00,184.42 L181.00,184.40 L182.00,184.40 L183.00,184.40 L184.00,184.40 L185.00,184.40 L186.00,184.40 L187.00,184.99 L188.00,186.75 L189.00,187.50 L190.00,187.41 L191.00,187.31 L192.00,187.33 L193.00,187.41 L194.00,187.49 L195.00,187.38 L196.00,186.87 L197.00,186.38 L198.00,186.36 L199.00,186.69 L200.00,186.90 L201.00,186.90 L202.00,186.88 L203.00,186.84 L204.00,186.75 L205.00,186.60" fill="none" stroke="#2b4e3b" stroke-width="1.8" stroke-linejoin="round"/>
<line x1="209.6" y1="187.5" x2="222" y2="187.5" stroke="#2b4e3b" stroke-width="1.6" />
<text x="225" y="190.1" font-size="7.5" text-anchor="start" fill="#2a2a2a" color="#2a2a2a" font-weight="normal" >CGD 3 x 10<tspan font-size="4.8" dy="-3">6</tspan><tspan dy="3"> Neu/ml</tspan></text>
<line x1="209.6" y1="199.3" x2="222" y2="199.3" stroke="#2b4e3b" stroke-width="1.6" stroke-dasharray="1.2 0.9"/>
<text x="225" y="201.9" font-size="7.5" text-anchor="start" fill="#2a2a2a" color="#2a2a2a" font-weight="normal" >Control 3 x 10<tspan font-size="4.8" dy="-3">6</tspan><tspan dy="3"> Neu/ml</tspan></text>
<line x1="209.6" y1="222.6" x2="222" y2="222.6" stroke="#72a1cf" stroke-width="1.6" />
<text x="225" y="225.2" font-size="7.5" text-anchor="start" fill="#2a2a2a" color="#2a2a2a" font-weight="normal" >CGD 5 x 10<tspan font-size="4.8" dy="-3">6</tspan><tspan dy="3"> Neu/ml</tspan></text>
<line x1="209.6" y1="234.2" x2="222" y2="234.2" stroke="#72a1cf" stroke-width="1.6" stroke-dasharray="1.2 0.9"/>
<text x="225" y="236.8" font-size="7.5" text-anchor="start" fill="#2a2a2a" color="#2a2a2a" font-weight="normal" >Control 5 x 10<tspan font-size="4.8" dy="-3">6</tspan><tspan dy="3"> Neu/ml</tspan></text>
<line x1="209.6" y1="257.4" x2="222" y2="257.4" stroke="#3e1f57" stroke-width="1.6" />
<text x="225" y="260.0" font-size="7.5" text-anchor="start" fill="#2a2a2a" color="#2a2a2a" font-weight="normal" >CGD 10 x 10<tspan font-size="4.8" dy="-3">6</tspan><tspan dy="3"> Neu/ml</tspan></text>
<line x1="209.6" y1="269.4" x2="222" y2="269.4" stroke="#3e1f57" stroke-width="1.6" stroke-dasharray="1.2 0.9"/>
<text x="225" y="272.0" font-size="7.5" text-anchor="start" fill="#2a2a2a" color="#2a2a2a" font-weight="normal" >Control 10 x 10<tspan font-size="4.8" dy="-3">6</tspan><tspan dy="3"> Neu/ml</tspan></text>
<text x="320.4" y="168.1" font-size="11" text-anchor="start" fill="#000" color="#000" font-weight="bold" >D</text>
<line x1="350" y1="180.5" x2="350" y2="292.4" stroke="#111" stroke-width="1.5" />
<line x1="346.8" y1="291.7" x2="350" y2="291.7" stroke="#111" stroke-width="1.3" />
<text x="343.2" y="293.95" font-size="8" text-anchor="end" fill="#2a2a2a" color="#2a2a2a" font-weight="normal" >0</text>
<line x1="346.8" y1="255.35" x2="350" y2="255.35" stroke="#111" stroke-width="1.3" />
<text x="343.2" y="257.6" font-size="8" text-anchor="end" fill="#2a2a2a" color="#2a2a2a" font-weight="normal" >20</text>
<line x1="346.8" y1="219.0" x2="350" y2="219.0" stroke="#111" stroke-width="1.3" />
<text x="343.2" y="221.25" font-size="8" text-anchor="end" fill="#2a2a2a" color="#2a2a2a" font-weight="normal" >40</text>
<line x1="346.8" y1="182.65" x2="350" y2="182.65" stroke="#111" stroke-width="1.3" />
<text x="343.2" y="184.9" font-size="8" text-anchor="end" fill="#2a2a2a" color="#2a2a2a" font-weight="normal" >60</text>
<line x1="349.25" y1="291.7" x2="513.3" y2="291.7" stroke="#111" stroke-width="1.4" />
<rect x="364.20" y="204.80" width="53.20" height="86.90" fill="#2d4b7d" stroke="#203a63" stroke-width="0.8"/>
<rect x="445.40" y="202.40" width="53.40" height="89.30" fill="#a6002b" stroke="#860022" stroke-width="0.8"/>
<line x1="390.8" y1="193.8" x2="390.8" y2="204.4" stroke="#111" stroke-width="1.2" />
<line x1="377.3" y1="193.8" x2="404.3" y2="193.8" stroke="#111" stroke-width="1.2" />
<line x1="472.2" y1="191.2" x2="472.2" y2="202" stroke="#111" stroke-width="1.2" />
<line x1="458.7" y1="191.2" x2="485.7" y2="191.2" stroke="#111" stroke-width="1.2" />
<line x1="392" y1="175.4" x2="469.9" y2="175.4" stroke="#111" stroke-width="1.2" />
<line x1="392" y1="170.5" x2="392" y2="180.4" stroke="#111" stroke-width="1.2" />
<line x1="469.9" y1="170.5" x2="469.9" y2="180.4" stroke="#111" stroke-width="1.2" />
<text x="431.2" y="185" font-size="6.5" text-anchor="middle" fill="#2a2a2a" color="#2a2a2a" font-weight="normal" >ns</text>
<text x="390.5" y="302" font-size="7.7" text-anchor="middle" fill="#2a2a2a" color="#2a2a2a" font-weight="normal" >Healthy Control</text>
<text x="472" y="302" font-size="7.7" text-anchor="middle" fill="#2a2a2a" color="#2a2a2a" font-weight="normal" >CGD</text>
<g transform="translate(328.8,235.7) rotate(-90) scale(0.78,1)"><text style="stroke-width:0.32px" x="0" y="0" font-size="8.5" text-anchor="middle" fill="#222" color="#222">TUO (hours)</text></g>
<text x="7.5" y="336.4" font-size="11" text-anchor="start" fill="#000" color="#000" font-weight="bold" >E</text>
<line x1="62" y1="340.8" x2="62" y2="449.5" stroke="#111" stroke-width="1.5" />
<line x1="58.8" y1="448.8" x2="62" y2="448.8" stroke="#111" stroke-width="1.3" />
<text x="55.2" y="451.05" font-size="8" text-anchor="end" fill="#2a2a2a" color="#2a2a2a" font-weight="normal" >0</text>
<line x1="58.8" y1="422.47" x2="62" y2="422.47" stroke="#111" stroke-width="1.3" />
<text x="55.2" y="424.72" font-size="8" text-anchor="end" fill="#2a2a2a" color="#2a2a2a" font-weight="normal" >10000</text>
<line x1="58.8" y1="396.14" x2="62" y2="396.14" stroke="#111" stroke-width="1.3" />
<text x="55.2" y="398.39" font-size="8" text-anchor="end" fill="#2a2a2a" color="#2a2a2a" font-weight="normal" >20000</text>
<line x1="58.8" y1="369.81" x2="62" y2="369.81" stroke="#111" stroke-width="1.3" />
<text x="55.2" y="372.06" font-size="8" text-anchor="end" fill="#2a2a2a" color="#2a2a2a" font-weight="normal" >30000</text>
<line x1="58.8" y1="343.48" x2="62" y2="343.48" stroke="#111" stroke-width="1.3" />
<text x="55.2" y="345.73" font-size="8" text-anchor="end" fill="#2a2a2a" color="#2a2a2a" font-weight="normal" >40000</text>
<line x1="61.25" y1="448.8" x2="223" y2="448.8" stroke="#111" stroke-width="1.4" />
<line x1="61.7" y1="448.8" x2="61.7" y2="451.8" stroke="#111" stroke-width="1.3" />
<text x="61.7" y="462" font-size="8" text-anchor="middle" fill="#2a2a2a" color="#2a2a2a" font-weight="normal" >0</text>
<line x1="93.15" y1="448.8" x2="93.15" y2="451.8" stroke="#111" stroke-width="1.3" />
<text x="93.15" y="462" font-size="8" text-anchor="middle" fill="#2a2a2a" color="#2a2a2a" font-weight="normal" >3</text>
<line x1="124.6" y1="448.8" x2="124.6" y2="451.8" stroke="#111" stroke-width="1.3" />
<text x="124.6" y="462" font-size="8" text-anchor="middle" fill="#2a2a2a" color="#2a2a2a" font-weight="normal" >6</text>
<line x1="156.05" y1="448.8" x2="156.05" y2="451.8" stroke="#111" stroke-width="1.3" />
<text x="156.05" y="462" font-size="8" text-anchor="middle" fill="#2a2a2a" color="#2a2a2a" font-weight="normal" >9</text>
<line x1="187.5" y1="448.8" x2="187.5" y2="451.8" stroke="#111" stroke-width="1.3" />
<text x="187.5" y="462" font-size="8" text-anchor="middle" fill="#2a2a2a" color="#2a2a2a" font-weight="normal" >12</text>
<line x1="218.95" y1="448.8" x2="218.95" y2="451.8" stroke="#111" stroke-width="1.3" />
<text x="218.95" y="462" font-size="8" text-anchor="middle" fill="#2a2a2a" color="#2a2a2a" font-weight="normal" >15</text>
<g transform="translate(142.7,475.3) scale(0.757,1)"><text style="stroke-width:0.32px" x="0" y="0" font-size="9" text-anchor="middle" fill="#222" color="#222">Time after neutrophil lysis (hours)</text></g>
<g transform="translate(15.3,394.3) rotate(-90) scale(0.775,1)"><text style="stroke-width:0.32px" x="0" y="0" font-size="9" text-anchor="middle" fill="#222" color="#222">Bacterial growth</text></g>
<g transform="translate(25.5,394.9) rotate(-90) scale(0.74,1)"><text style="stroke-width:0.32px" x="0" y="0" font-size="9" text-anchor="middle" fill="#222" color="#222">GFP - RFU</text></g>
<path d="M62.00,441.40 L63.00,441.41 L64.00,441.41 L65.00,441.42 L66.00,441.42 L67.00,441.43 L68.00,441.44 L69.00,441.44 L70.00,441.45 L71.00,441.45 L72.00,441.46 L73.00,441.46 L74.00,441.47 L75.00,441.47 L76.00,441.48 L77.00,441.49 L78.00,441.49 L79.00,441.50 L80.00,441.50 L81.00,441.50 L82.00,441.51 L83.00,441.51 L84.00,441.52 L85.00,441.52 L86.00,441.53 L87.00,441.53 L88.00,441.54 L89.00,441.54 L90.00,441.54 L91.00,441.55 L92.00,441.55 L93.00,441.56 L94.00,441.56 L95.00,441.57 L96.00,441.57 L97.00,441.58 L98.00,441.59 L99.00,441.59 L100.00,441.60 L101.00,441.61 L102.00,441.61 L103.00,441.62 L104.00,441.63 L105.00,441.64 L106.00,441.64 L107.00,441.65 L108.00,441.66 L109.00,441.66 L110.00,441.67 L111.00,441.67 L112.00,441.67 L113.00,441.67 L114.00,441.67 L115.00,441.67 L116.00,441.67 L117.00,441.66 L118.00,441.65 L119.00,441.64 L120.00,441.63 L121.00,441.62 L122.00,441.60 L123.00,441.58 L124.00,441.56 L125.00,441.53 L126.00,441.50 L127.00,441.47 L128.00,441.43 L129.00,441.39 L130.00,441.34 L131.00,441.29 L132.00,441.23 L133.00,441.17 L134.00,441.10 L135.00,441.03 L136.00,440.95 L137.00,440.86 L138.00,440.77 L139.00,440.67 L140.00,440.55 L141.00,440.43 L142.00,440.30 L143.00,440.15 L144.00,439.99 L145.00,439.81 L146.00,439.62 L147.00,439.41 L148.00,439.19 L149.00,438.95 L150.00,438.69 L151.00,438.41 L152.00,438.12 L153.00,437.80 L154.00,437.47 L155.00,437.12 L156.00,436.74 L157.00,436.35 L158.00,435.93 L159.00,435.50 L160.00,435.03 L161.00,434.55 L162.00,434.04 L163.00,433.49 L164.00,432.88 L165.00,432.20 L166.00,431.44 L167.00,430.62 L168.00,429.74 L169.00,428.83 L170.00,427.91 L171.00,426.96 L172.00,426.00 L173.00,425.03 L174.00,424.04 L175.00,423.04 L176.00,422.03 L177.00,421.02 L178.00,420.00 L179.00,418.97 L180.00,417.95 L181.00,416.92 L182.00,415.91 L183.00,414.91 L184.00,413.92 L185.00,412.95 L186.00,412.01 L187.00,411.09 L188.00,410.20 L189.00,409.34 L190.00,408.50 L191.00,407.69 L192.00,406.90 L193.00,406.14 L194.00,405.38 L195.00,404.65 L196.00,403.92 L197.00,403.21 L198.00,402.51 L199.00,401.81 L200.00,401.12 L201.00,400.44 L202.00,399.76 L203.00,399.08 L204.00,398.40 L205.00,397.73 L206.00,397.07 L207.00,396.40 L208.00,395.73 L209.00,395.07 L210.00,394.40 L211.00,393.73 L212.00,393.07 L213.00,392.40 L214.00,391.74 L215.00,391.07 L216.00,390.40 L217.00,389.73 L218.00,389.07 L219.00,388.40 L219.60,388.00" fill="none" stroke="#283f70" stroke-width="1.7" stroke-linejoin="round"/>
<path d="M62.00,441.10 L63.00,441.11 L64.00,441.11 L65.00,441.12 L66.00,441.12 L67.00,441.13 L68.00,441.13 L69.00,441.13 L70.00,441.14 L71.00,441.14 L72.00,441.14 L73.00,441.14 L74.00,441.14 L75.00,441.14 L76.00,441.13 L77.00,441.13 L78.00,441.12 L79.00,441.11 L80.00,441.10 L81.00,441.09 L82.00,441.07 L83.00,441.05 L84.00,441.03 L85.00,441.01 L86.00,440.98 L87.00,440.95 L88.00,440.91 L89.00,440.87 L90.00,440.83 L91.00,440.77 L92.00,440.71 L93.00,440.65 L94.00,440.58 L95.00,440.50 L96.00,440.41 L97.00,440.32 L98.00,440.22 L99.00,440.11 L100.00,439.99 L101.00,439.87 L102.00,439.74 L103.00,439.60 L104.00,439.45 L105.00,439.30 L106.00,439.13 L107.00,438.94 L108.00,438.74 L109.00,438.51 L110.00,438.27 L111.00,438.00 L112.00,437.70 L113.00,437.38 L114.00,437.02 L115.00,436.64 L116.00,436.23 L117.00,435.78 L118.00,435.31 L119.00,434.80 L120.00,434.26 L121.00,433.69 L122.00,433.08 L123.00,432.44 L124.00,431.78 L125.00,431.08 L126.00,430.35 L127.00,429.60 L128.00,428.82 L129.00,428.01 L130.00,427.19 L131.00,426.34 L132.00,425.49 L133.00,424.63 L134.00,423.76 L135.00,422.90 L136.00,422.04 L137.00,421.18 L138.00,420.32 L139.00,419.46 L140.00,418.60 L141.00,417.73 L142.00,416.84 L143.00,415.95 L144.00,415.04 L145.00,414.13 L146.00,413.20 L147.00,412.26 L148.00,411.33 L149.00,410.39 L150.00,409.47 L151.00,408.55 L152.00,407.65 L153.00,406.76 L154.00,405.89 L155.00,405.03 L156.00,404.18 L157.00,403.35 L158.00,402.52 L159.00,401.69 L160.00,400.87 L161.00,400.06 L162.00,399.25 L163.00,398.44 L164.00,397.64 L165.00,396.84 L166.00,396.05 L167.00,395.26 L168.00,394.47 L169.00,393.69 L170.00,392.91 L171.00,392.13 L172.00,391.36 L173.00,390.59 L174.00,389.83 L175.00,389.08 L176.00,388.34 L177.00,387.60 L178.00,386.87 L179.00,386.16 L180.00,385.45 L181.00,384.75 L182.00,384.07 L183.00,383.39 L184.00,382.73 L185.00,382.07 L186.00,381.43 L187.00,380.80 L188.00,380.18 L189.00,379.57 L190.00,378.98 L191.00,378.39 L192.00,377.81 L193.00,377.24 L194.00,376.68 L195.00,376.13 L196.00,375.58 L197.00,375.04 L198.00,374.50 L199.00,373.97 L200.00,373.44 L201.00,372.91 L202.00,372.39 L203.00,371.87 L204.00,371.36 L205.00,370.84 L206.00,370.33 L207.00,369.82 L208.00,369.31 L209.00,368.80 L210.00,368.29 L211.00,367.78 L212.00,367.27 L213.00,366.76 L214.00,366.25 L215.00,365.74 L216.00,365.23 L217.00,364.72 L218.00,364.21 L219.00,363.71 L219.60,363.40" fill="none" stroke="#900c35" stroke-width="1.7" stroke-linejoin="round"/>
<line x1="89.2" y1="346.9" x2="113.1" y2="346.9" stroke="#900c35" stroke-width="1.6" />
<line x1="89.2" y1="358.5" x2="114.2" y2="358.5" stroke="#283f70" stroke-width="1.6" />
<text x="116.5" y="349.1" font-size="7.5" text-anchor="start" fill="#2a2a2a" color="#2a2a2a" font-weight="normal" >CGD</text>
<text x="117.9" y="361.2" font-size="7.3" text-anchor="start" fill="#2a2a2a" color="#2a2a2a" font-weight="normal" >Healthy Control</text>
<text x="320.9" y="335.9" font-size="11" text-anchor="start" fill="#000" color="#000" font-weight="bold" >F</text>
<line x1="350" y1="337.3" x2="350" y2="448.7" stroke="#111" stroke-width="1.5" />
<line x1="346.8" y1="448.0" x2="350" y2="448.0" stroke="#111" stroke-width="1.3" />
<text x="343.2" y="450.25" font-size="8" text-anchor="end" fill="#2a2a2a" color="#2a2a2a" font-weight="normal" >0</text>
<line x1="346.8" y1="426.35" x2="350" y2="426.35" stroke="#111" stroke-width="1.3" />
<text x="343.2" y="428.6" font-size="8" text-anchor="end" fill="#2a2a2a" color="#2a2a2a" font-weight="normal" >2</text>
<line x1="346.8" y1="404.7" x2="350" y2="404.7" stroke="#111" stroke-width="1.3" />
<text x="343.2" y="406.95" font-size="8" text-anchor="end" fill="#2a2a2a" color="#2a2a2a" font-weight="normal" >4</text>
<line x1="346.8" y1="383.05" x2="350" y2="383.05" stroke="#111" stroke-width="1.3" />
<text x="343.2" y="385.3" font-size="8" text-anchor="end" fill="#2a2a2a" color="#2a2a2a" font-weight="normal" >6</text>
<line x1="346.8" y1="361.4" x2="350" y2="361.4" stroke="#111" stroke-width="1.3" />
<text x="343.2" y="363.65" font-size="8" text-anchor="end" fill="#2a2a2a" color="#2a2a2a" font-weight="normal" >8</text>
<line x1="346.8" y1="339.75" x2="350" y2="339.75" stroke="#111" stroke-width="1.3" />
<text x="343.2" y="342.0" font-size="8" text-anchor="end" fill="#2a2a2a" color="#2a2a2a" font-weight="normal" >10</text>
<line x1="349.25" y1="448" x2="512.3" y2="448" stroke="#111" stroke-width="1.4" />
<rect x="363.40" y="359.50" width="54.00" height="88.50" fill="#2d4b7d" stroke="#203a63" stroke-width="0.8"/>
<rect x="445.40" y="394.70" width="53.40" height="53.30" fill="#a6002b" stroke="#860022" stroke-width="0.8"/>
<line x1="390.5" y1="350" x2="390.5" y2="359.1" stroke="#111" stroke-width="1.2" />
<line x1="377.0" y1="350" x2="404.0" y2="350" stroke="#111" stroke-width="1.2" />
<line x1="472.2" y1="388.1" x2="472.2" y2="394.3" stroke="#111" stroke-width="1.2" />
<line x1="458.7" y1="388.1" x2="485.7" y2="388.1" stroke="#111" stroke-width="1.2" />
<line x1="389.9" y1="331.2" x2="473.4" y2="331.2" stroke="#111" stroke-width="1.2" />
<line x1="389.9" y1="325.8" x2="389.9" y2="336.6" stroke="#111" stroke-width="1.2" />
<line x1="473.4" y1="325.8" x2="473.4" y2="336.6" stroke="#111" stroke-width="1.2" />
<circle cx="431.5" cy="336.8" r="0.9" fill="#111"/>
<text x="390.5" y="459" font-size="7.7" text-anchor="middle" fill="#2a2a2a" color="#2a2a2a" font-weight="normal" >Healthy Control</text>
<text x="472" y="459" font-size="7.7" text-anchor="middle" fill="#2a2a2a" color="#2a2a2a" font-weight="normal" >CGD</text>
<g transform="translate(318.6,391.2) rotate(-90) scale(0.8,1)"><text style="stroke-width:0.32px" x="0" y="0" font-size="8.6" text-anchor="middle" fill="#222" color="#222">TUO after neutrophil lysis</text></g>
<g transform="translate(328.2,393.4) rotate(-90) scale(0.9,1)"><text style="stroke-width:0.32px" x="0" y="0" font-size="8.6" text-anchor="middle" fill="#222" color="#222">(hours)</text></g>
<rect x="0.6" y="0.6" width="518.8" height="483.8" fill="none" stroke="#000" stroke-width="1.2"/>
</svg>
</body></html>
